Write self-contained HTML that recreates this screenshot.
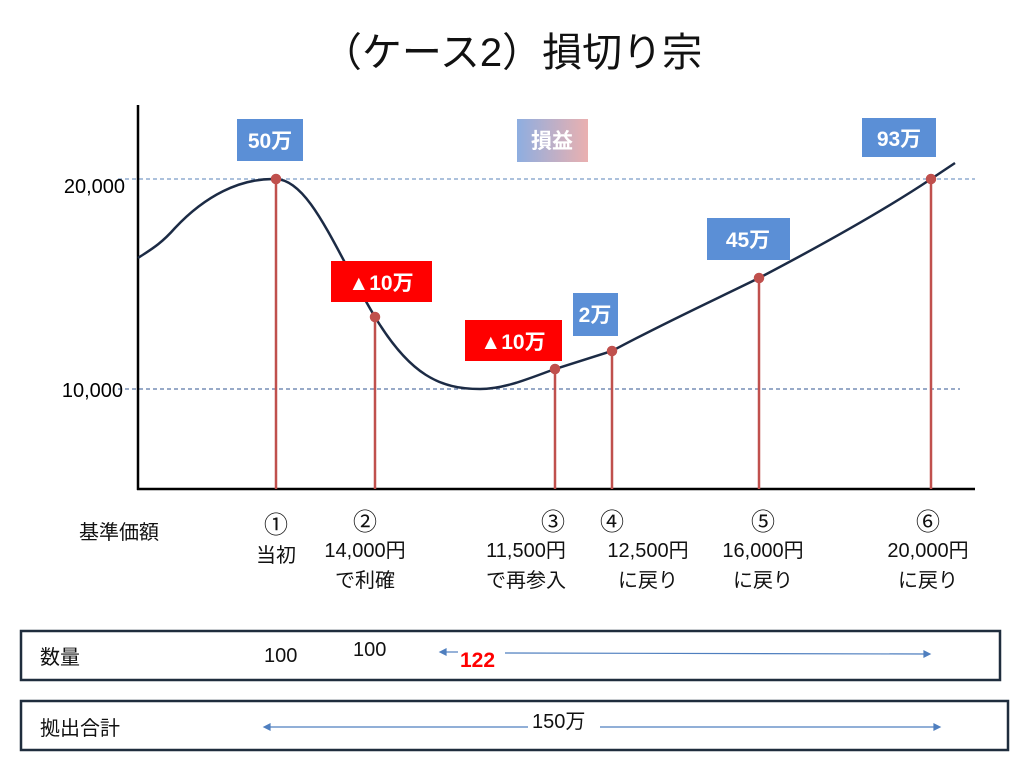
<!DOCTYPE html>
<html><head><meta charset="utf-8"><style>
body{margin:0;background:#fff}
svg text{font-family:"Liberation Sans","Noto Sans CJK JP",sans-serif}
</style></head><body>
<svg width="1024" height="767" xmlns="http://www.w3.org/2000/svg">
<defs><linearGradient id="g" x1="0" x2="1"><stop offset="0" stop-color="#8eaee0"/><stop offset="1" stop-color="#eab0b0"/></linearGradient></defs>
<text x="512" y="66" font-size="40" text-anchor="middle" fill="#111">（ケース2）損切り宗</text>
<line x1="118" y1="179" x2="975" y2="179" stroke="#7b9cc8" stroke-dasharray="4,3" stroke-width="1.2"/>
<line x1="118" y1="389" x2="960" y2="389" stroke="#5a78a8" stroke-dasharray="4,3" stroke-width="1.2"/>
<line x1="138" y1="105" x2="138" y2="490" stroke="#000" stroke-width="2.5"/>
<line x1="137" y1="489" x2="975" y2="489" stroke="#000" stroke-width="2.5"/>
<text x="125" y="193" font-size="20" text-anchor="end">20,000</text>
<text x="123" y="397" font-size="20" text-anchor="end">10,000</text>
<path d="M138,258 C150,250 160,245 175,228 C205,196 240,178 276,179 C310,180 335,250 375,317 C410,375 440,389 480,389 C505,389 530,378 555,369 L612,351 C660,325 710,302 759,278 C820,246 880,213 931,179 L955,163" fill="none" stroke="#1c2b45" stroke-width="2.5"/>
<g stroke="#c0504d" stroke-width="2.5" fill="#c0504d">
<line x1="276" y1="179" x2="276" y2="489"/><circle cx="276" cy="179" r="4"/>
<line x1="375" y1="317" x2="375" y2="489"/><circle cx="375" cy="317" r="4"/>
<line x1="555" y1="369" x2="555" y2="489"/><circle cx="555" cy="369" r="4"/>
<line x1="612" y1="351" x2="612" y2="489"/><circle cx="612" cy="351" r="4"/>
<line x1="759" y1="278" x2="759" y2="489"/><circle cx="759" cy="278" r="4"/>
<line x1="931" y1="179" x2="931" y2="489"/><circle cx="931" cy="179" r="4"/>
</g>
<g font-size="21" font-weight="bold" fill="#fff" text-anchor="middle">
<rect x="237" y="119" width="66" height="42" fill="#5b8fd6"/><text x="270" y="148">50万</text>
<rect x="517" y="119" width="71" height="43" fill="url(#g)"/><text x="552" y="148">損益</text>
<rect x="862" y="118" width="74" height="39" fill="#5b8fd6"/><text x="899" y="146">93万</text>
<rect x="331" y="261" width="101" height="41" fill="#ff0000"/><text x="381" y="290">▲10万</text>
<rect x="465" y="320" width="97" height="41" fill="#ff0000"/><text x="513" y="349">▲10万</text>
<rect x="573" y="293" width="45" height="43" fill="#5b8fd6"/><text x="595" y="322">2万</text>
<rect x="707" y="218" width="83" height="42" fill="#5b8fd6"/><text x="748" y="247">45万</text>
</g>
<g font-size="20" fill="#111" text-anchor="middle">
<text x="119" y="539">基準価額</text>
<text x="276" y="533" font-size="24">①</text><text x="276" y="562">当初</text>
<text x="365" y="530" font-size="24">②</text><text x="365" y="557">14,000円</text><text x="365" y="587">で利確</text>
<text x="553" y="530" font-size="24">③</text><text x="526" y="557">11,500円</text><text x="526" y="587">で再参入</text>
<text x="612" y="530" font-size="24">④</text><text x="648" y="557">12,500円</text><text x="648" y="587">に戻り</text>
<text x="763" y="530" font-size="24">⑤</text><text x="763" y="557">16,000円</text><text x="763" y="587">に戻り</text>
<text x="928" y="530" font-size="24">⑥</text><text x="928" y="557">20,000円</text><text x="928" y="587">に戻り</text>
</g>
<rect x="21" y="631" width="979" height="49" fill="none" stroke="#1f2d3d" stroke-width="2.5"/>
<rect x="21" y="701" width="987" height="49" fill="none" stroke="#1f2d3d" stroke-width="2.5"/>
<g font-size="20" fill="#111">
<text x="40" y="664">数量</text>
<text x="264" y="662">100</text><text x="353" y="656">100</text>
<text x="40" y="735">拠出合計</text>
<text x="532" y="728">150万</text>
</g>
<text x="460" y="667" font-size="21" font-weight="bold" fill="#ff0000">122</text>
<g stroke="#4f7fbf" stroke-width="1.2" fill="#4f7fbf">
<line x1="445" y1="652" x2="458" y2="652"/><line x1="505" y1="653" x2="926" y2="654"/>
<path d="M440,652 l6,-3 v6z"/><path d="M930,654 l-6,-3 v6z"/>
<line x1="268" y1="727" x2="528" y2="727"/><line x1="600" y1="727" x2="935" y2="727"/>
<path d="M264,727 l6,-3 v6z"/><path d="M940,727 l-6,-3 v6z"/>
</g>
</svg>
</body></html>
